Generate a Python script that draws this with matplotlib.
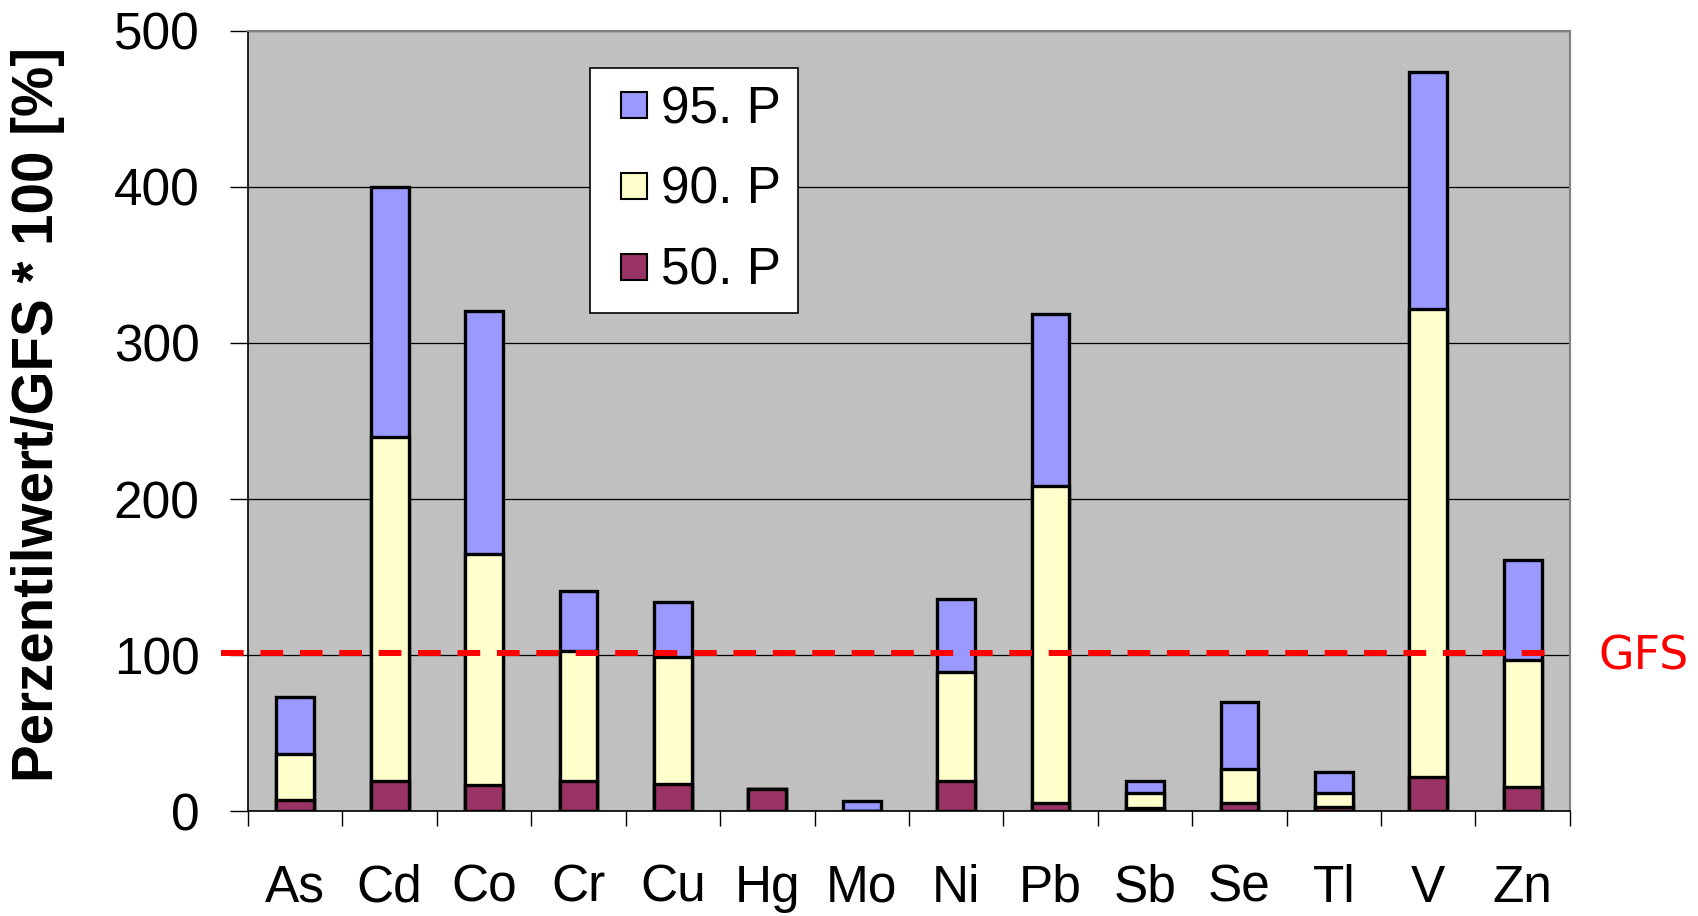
import numpy as np
import matplotlib
matplotlib.use("Agg")
import matplotlib.pyplot as plt
from matplotlib.lines import Line2D

# Percentile / GFS ratios (in %) per element
elements = ["As", "Cd", "Co", "Cr", "Cu", "Hg", "Mo", "Ni", "Pb", "Sb", "Se", "Tl", "V", "Zn"]
p95 = [73.4, 400, 320.5, 141, 133.7, 14.3, 6.4, 135.6, 318.5, 19.3, 69.8, 25.2, 474, 161]
p90 = [36.6, 240, 164.8, 102.3, 98.6, 14.3, 0, 88.8, 208.6, 11.8, 26.7, 11.3, 322, 97]
p50 = [7.0, 19.3, 16.7, 19.3, 17.5, 14.3, 0, 19.3, 5.3, 2.0, 5.3, 2.8, 22, 15.2]
gfs = 101.5

series = [("95. P", p95, "#9999FF"), ("90. P", p90, "#FFFFCC"), ("50. P", p50, "#993366")]

plt.rcParams["font.family"] = ["Liberation Sans", "DejaVu Sans"]

fig = plt.figure(figsize=(16.99, 9.16), dpi=100)
ax = fig.add_axes([0.146, 0.1146, 0.778, 0.8516])
ax.set_facecolor("#C0C0C0")

x = np.arange(len(elements))
w = 0.4
# bars overlap: largest percentile in the back
for name, vals, col in series:
    ax.bar(x, vals, w, color=col, edgecolor="black", linewidth=2.4, zorder=3)

# GFS threshold line, running a bit past the left axis
ax.plot([-0.79, 13.26], [gfs, gfs], color="#FF0000", lw=4.3,
        dashes=(3.8, 2.8), solid_capstyle="butt", dash_capstyle="butt",
        clip_on=False, zorder=4)
fig.text(1644 / 1699, 1 - 657 / 916, "GFS", color="#FF0000", fontsize=33,
         family="DejaVu Sans", ha="center", va="center")

ax.set_xlim(-0.5, 13.5)
ax.set_ylim(0, 500)
ax.set_yticks([0, 100, 200, 300, 400, 500])
ax.yaxis.grid(True, color="black", lw=0.9, zorder=1)
ax.set_axisbelow(True)

ax.set_xticks(x)
ax.set_xticklabels(elements)
ax.set_xticks(np.arange(-0.5, 14, 1), minor=True)
ax.tick_params(axis="x", which="major", length=0, pad=38, labelsize=37)
ax.tick_params(axis="x", which="minor", length=11, width=1.0, direction="out")
ax.tick_params(axis="y", length=13, width=1.0, pad=22, labelsize=37)

for side in ("top", "right"):
    ax.spines[side].set_color("#808080")
    ax.spines[side].set_linewidth(1.5)
for side in ("left", "bottom"):
    ax.spines[side].set_color("black")
    ax.spines[side].set_linewidth(1.2)

fig.text(38 / 1699, 1 - 414 / 916, "Perzentilwert/GFS * 100 [%]",
         rotation=90, fontsize=40.7, fontweight="bold", ha="center", va="center")

# square legend keys
handles = [Line2D([], [], ls="", marker="s", markersize=19, markerfacecolor=col,
                  markeredgecolor="black", markeredgewidth=1.5)
           for _, _, col in series]
leg = ax.legend(handles, [s[0] for s in series], loc="upper left",
                bbox_to_anchor=(0.259, 0.953), fontsize=37,
                frameon=True, fancybox=False, edgecolor="black", framealpha=1,
                handlelength=1.03, handletextpad=0.0,
                labelspacing=0.62, borderpad=0.34, borderaxespad=0)
leg.get_frame().set_linewidth(1.2)

fig.savefig("out.png", dpi=100)
